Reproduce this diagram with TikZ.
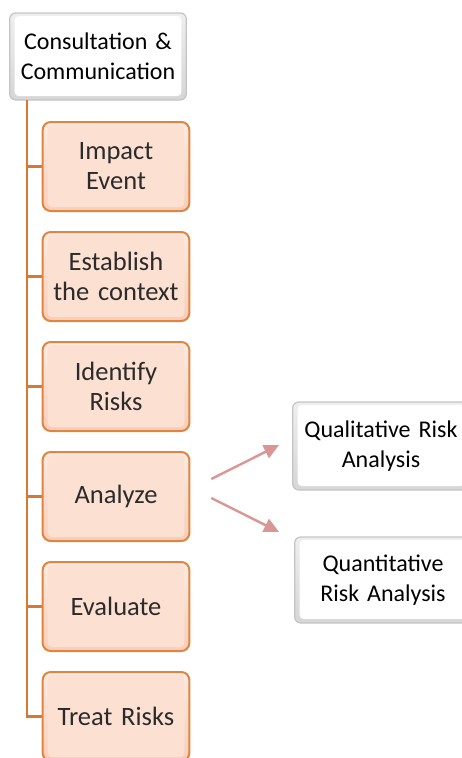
\documentclass[tikz,border=0pt]{standalone}
\usepackage{fontspec}
\setmainfont[WordSpace=0.8]{Carlito}
\usetikzlibrary{arrows.meta,positioning}
\definecolor{spine}{HTML}{D9782F}
\definecolor{obord}{HTML}{E0843F}
\definecolor{ofill}{HTML}{F9CDB8}
\definecolor{ofillin}{HTML}{FCE0D2}
\definecolor{gbord}{HTML}{C4C4C4}
\definecolor{gfill}{HTML}{D6D6D6}
\definecolor{arrcol}{HTML}{D99694}
\definecolor{otext}{HTML}{2B2B2B}
\tikzset{
  x=1pt, y=-1pt,
  bevel/.style 2 args={path picture={
      \path[top color=#1!40, bottom color=#1]
        (path picture bounding box.south west) rectangle (path picture bounding box.north east);
      \fill[#2, rounded corners=4pt]
        ([xshift=5pt,yshift=4pt]path picture bounding box.south west) rectangle
        ([xshift=-5pt,yshift=-3pt]path picture bounding box.north east);
  }},
  graybox/.style={draw=gbord, line width=1.2pt, rounded corners=6pt,
    bevel={gfill}{white}, align=center,
    font=\fontsize{24}{29.5}\selectfont, text=black},
  orangebox/.style={draw=obord, line width=2pt, rounded corners=8pt,
    bevel={ofill}{ofillin}, align=center,
    minimum width=144pt, minimum height=89pt, text width=140pt,
    font=\fontsize{26.5}{30}\selectfont, text=otext},
  spineline/.style={draw=spine, line width=2.4pt},
  arr/.style={draw=arrcol, line width=2.4pt, -{Triangle[length=15pt,width=14pt]}},
}
\begin{document}
\begin{tikzpicture}
\useasboundingbox (0,0) rectangle (462,758);
\coordinate (spinetop) at (27,100);
\node[graybox, minimum width=176pt, minimum height=87pt, text width=170pt] (cc) at (98,56.5) {Consultation \&\\Communication};
\foreach \b/\yy in {impact/166.5,est/276.5,ident/386.5,analyze/496.5,eval/606.5,treat/716.5}{
  \coordinate (\b-w) at (44,\yy);
  \draw[spineline] (spinetop) |- (\b-w);
}
\node[orangebox] (impact) at (116,166.5) {Impact\\Event};
\node[orangebox] (est) at (116,276.5) {Establish\\the context};
\node[orangebox] (ident) at (116,386.5) {Identify\\Risks};
\node[orangebox] (analyze) at (116,496.5) {Analyze};
\node[orangebox] (eval) at (116,606.5) {Evaluate};
\node[orangebox] (treat) at (116,716.5) {Treat Risks};
\node[graybox, minimum width=176pt, minimum height=88pt, text width=170pt] (qual) at (381,446) {Qualitative Risk\\Analysis};
\node[graybox, minimum width=176pt, minimum height=86pt, text width=170pt] (quant) at (383,580) {Quantitative\\Risk Analysis};
\draw[arr] ([xshift=21pt,yshift=17.5pt]analyze.east) -- ([xshift=-13pt,yshift=1pt]qual.west);
\draw[arr] ([xshift=21pt,yshift=-1.5pt]analyze.east) -- ([xshift=-15pt,yshift=48pt]quant.west);
\end{tikzpicture}
\end{document}
